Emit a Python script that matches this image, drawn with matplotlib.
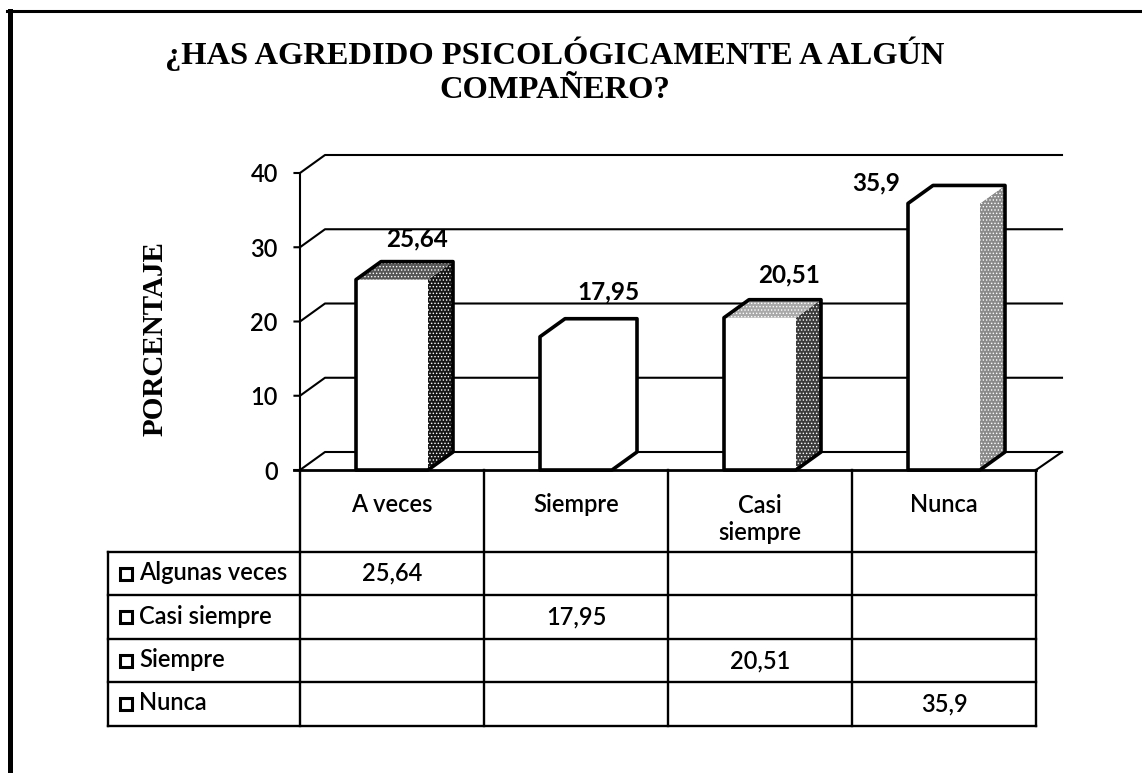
import matplotlib
matplotlib.use('Agg')
import matplotlib.pyplot as plt
from matplotlib.patches import Polygon

categorias = ['A veces', 'Siempre', 'Casi\nsiempre', 'Nunca']
valores = [25.64, 17.95, 20.51, 35.9]
etiquetas = ['25,64', '17,95', '20,51', '35,9']
series = ['Algunas veces', 'Casi siempre', 'Siempre', 'Nunca']
yticks = [0, 10, 20, 30, 40]
titulo = '¿HAS AGREDIDO PSICOLÓGICAMENTE A ALGÚN\nCOMPAÑERO?'

# grises de cara lateral y cara superior de cada barra
lado = ['#161616', 'white', '#3c3c3c', '#8a8a8a']
tapa = ['#555555', 'white', '#a8a8a8', 'white']

W, H = 1142, 773
plt.rcParams['font.family'] = ['Lato', 'DejaVu Sans']
plt.rcParams['hatch.linewidth'] = 0.6
fig = plt.figure(figsize=(W / 100, H / 100), dpi=100)

# marco de la pagina: solo izquierda y arriba
fig.add_artist(plt.Line2D([9.5 / W, 9.5 / W], [0, 1 - 11 / H], color='black', lw=3.6))
fig.add_artist(plt.Line2D([7 / W, 1], [1 - 11 / H, 1 - 11 / H], color='black', lw=2.2))

fig.text(555 / W, 1 - 71 / H, titulo, ha='center', va='center', fontsize=23.4, fontweight='bold',
         family='Liberation Serif', linespacing=1.23)
fig.text(155 / W, 1 - 339 / H, 'PORCENTAJE', rotation=90, ha='center', va='center', fontsize=21,
         fontweight='bold', family='Liberation Serif')

ax = fig.add_axes((300 / W, 1 - 470 / H, 736 / W, 297 / H))
ax.set_xlim(0, 4)
ax.set_ylim(0, 40)
for s in ax.spines.values():
    s.set_visible(False)
ax.patch.set_visible(False)
ax.set_xticks([])
ax.set_yticks(yticks)
ax.tick_params(axis='y', length=0, pad=16, labelsize=17)
for lab in ax.get_yticklabels():
    lab.set_fontweight('semibold')

dx = 25 / 184  # profundidad del efecto 3D
dy = 18 / (297 / 40)
ancho = 72 / 184

for t in yticks:
    ax.plot([-0.03, 0, dx, 4 + dx * 1.04], [t, t, t + dy, t + dy], color='black', lw=1.5,
            clip_on=False, zorder=1)
ax.plot([0, 0], [0, 40], color='black', lw=1.5, clip_on=False, zorder=1)
ax.plot([4, 4 + dx * 1.04], [0, dy], color='black', lw=1.5, clip_on=False, zorder=1)
ax.plot([-0.03, 4], [0, 0], color='black', lw=2, clip_on=False, zorder=1)

for i, v in enumerate(valores):
    x0 = i + 0.5 - ancho / 2
    x1 = x0 + ancho
    ax.add_patch(Polygon([(x1, 0), (x1 + dx, dy), (x1 + dx, v + dy), (x1, v)], closed=True,
                         facecolor=lado[i], edgecolor='white' if lado[i] != 'white' else 'none',
                         hatch='.....', lw=0, zorder=3, clip_on=False))
    ax.add_patch(Polygon([(x0, v), (x0 + dx, v + dy), (x1 + dx, v + dy), (x1, v)], closed=True,
                         facecolor=tapa[i], edgecolor='white' if tapa[i] != 'white' else 'none',
                         hatch='.....', lw=0, zorder=3, clip_on=False))
    ax.bar(i + 0.5, v, width=ancho, color='white', lw=0, zorder=4)
    # solo el contorno exterior va en trazo grueso
    ax.add_patch(Polygon([(x0, 0), (x0, v), (x0 + dx, v + dy), (x1 + dx, v + dy), (x1 + dx, dy), (x1, 0)],
                         closed=True, fill=False, edgecolor='black', lw=2.6, zorder=5, clip_on=False,
                         joinstyle='round'))

# etiquetas de datos, colocadas a mano como en el original
lab_dx = [0.136, 0.175, 0.16, -0.37]
lab_dy = [5.5, 6.1, 5.75, 2.8]
for i, v in enumerate(valores):
    ax.text(i + 0.5 + lab_dx[i], v + lab_dy[i], etiquetas[i], ha='center', va='center',
            fontsize=17.5, fontweight='bold', zorder=6)

# tabla de datos
filas = [[etiquetas[j] if j == i else '' for j in range(4)] for i in range(4)]
ax_t = fig.add_axes((108 / W, 1 - 726 / H, 928 / W, 256 / H))
ax_t.axis('off')
ax_t.set_xlim(108, 1036)
ax_t.set_ylim(726, 470)
col_x = [300, 484, 668, 852, 1036]
fila_y = [552, 595, 639, 682, 726]
for x in col_x:
    ax_t.plot([x, x], [470, 726], color='black', lw=1.7, clip_on=False)
ax_t.plot([108, 108], [552, 726], color='black', lw=1.7, clip_on=False)
for y in fila_y:
    ax_t.plot([108, 1036], [y, y], color='black', lw=1.7, clip_on=False)

for j, c in enumerate(categorias):
    ax_t.text((col_x[j] + col_x[j + 1]) / 2, 505 if '\n' not in c else 519, c, ha='center', va='center',
              fontsize=17, fontweight='semibold', linespacing=1.25)
for i, s in enumerate(series):
    yc = (fila_y[i] + fila_y[i + 1]) / 2
    ax_t.plot([126], [yc], marker='s', ms=8, mfc='white', mec='black', mew=2.2, clip_on=False)
    ax_t.text(139, yc - 1, s, ha='left', va='center', fontsize=17, fontweight='semibold')
    for j in range(4):
        ax_t.text((col_x[j] + col_x[j + 1]) / 2, yc, filas[i][j], ha='center', va='center',
                  fontsize=17, fontweight='semibold')

fig.savefig('out.png', dpi=100, facecolor='white')
